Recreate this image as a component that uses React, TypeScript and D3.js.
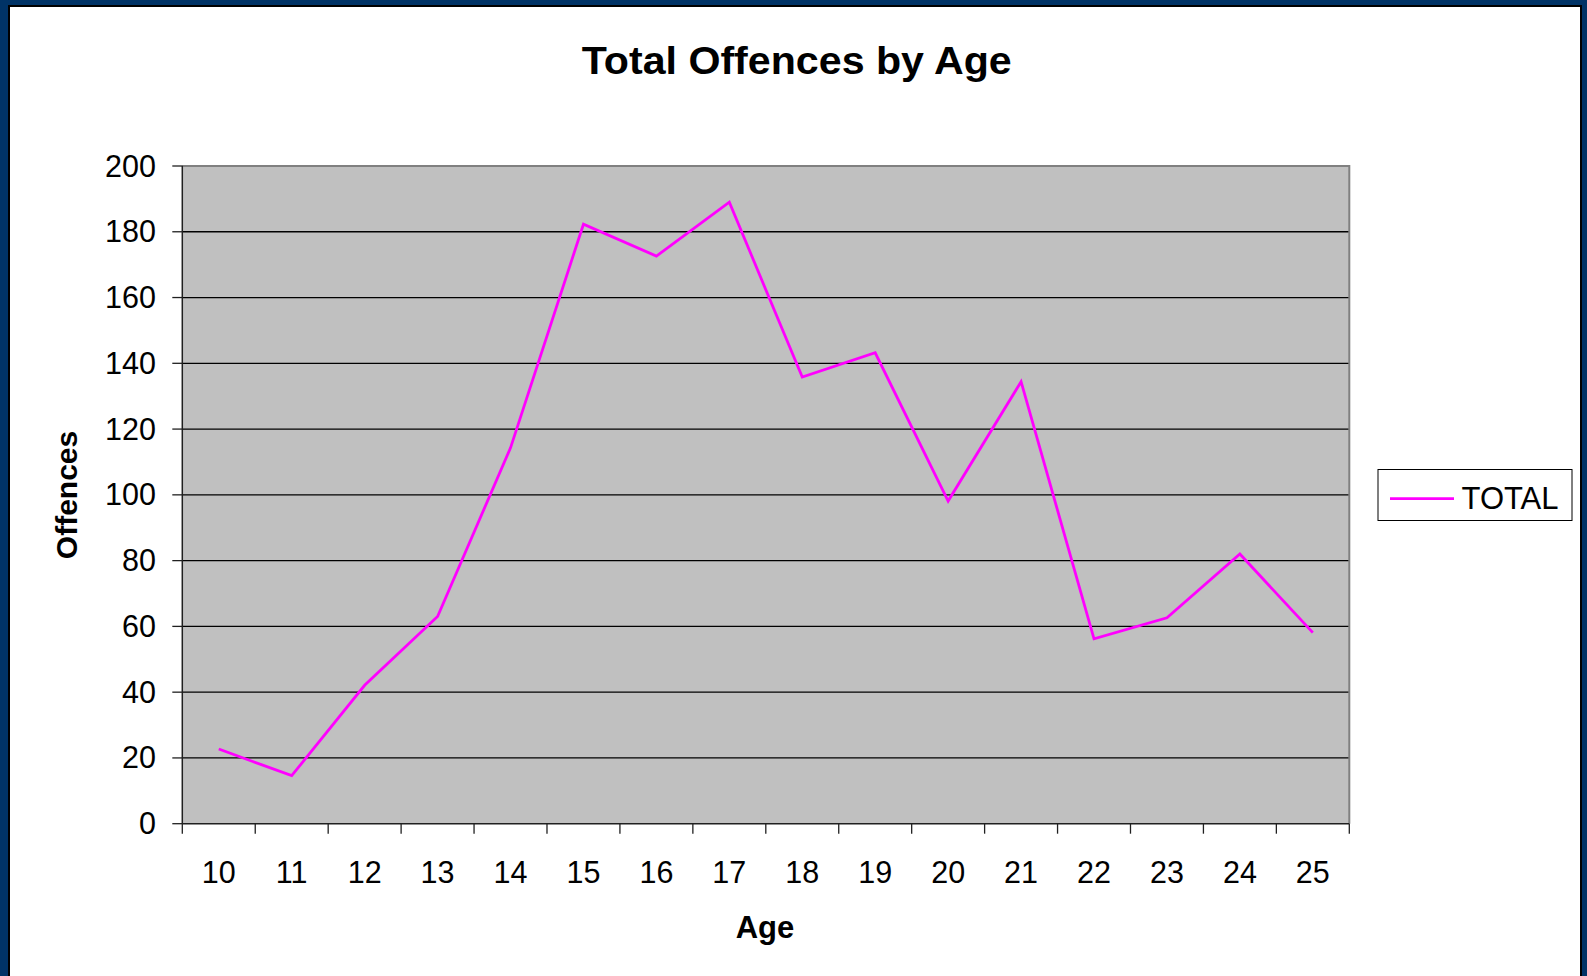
import React from "react";
import * as d3 from "d3";

const ages = ["10", "11", "12", "13", "14", "15", "16", "17", "18", "19", "20", "21", "22", "23", "24", "25"];
const totals = [22.7, 14.6, 42.1, 63, 114.3, 182.3, 172.6, 189, 135.8, 143.2, 98.1, 134.4, 56.2, 62.6, 82, 58.1];
const yTicks = [0, 20, 40, 60, 80, 100, 120, 140, 160, 180, 200];
const seriesName = "TOTAL";

const W = 1587;
const H = 976;
const font = "'Liberation Sans', Arial, sans-serif";

export default function App() {
  const left = 182.3;
  const right = 1349.3;
  const top = 166;
  const bottom = 823.7;

  const x = d3.scaleBand().domain(ages).range([left, right]).padding(0);
  const y = d3.scaleLinear().domain([0, 200]).range([bottom, top]);
  const bw = x.bandwidth();

  const line = d3
    .line<number>()
    .x((_, i) => (x(ages[i]) as number) + bw / 2)
    .y((d) => y(d));

  const boundaries = ages.map((a) => x(a) as number).concat([right]);

  return (
    <div style={{ position: "absolute", left: 0, top: 0 }}>
      <svg width={W} height={H} style={{ display: "block" }}>
        {/* frame */}
        <rect x={0} y={0} width={W} height={H} fill="#003366" />
        <rect x={8} y={5} width={1574} height={H} fill="#000" />
        <rect x={10} y={7} width={1570} height={H} fill="#fff" />

        <text
          x={581.7}
          y={73.5}
          fontFamily={font}
          fontWeight="bold"
          fontSize={38}
          textLength={430}
          lengthAdjust="spacingAndGlyphs"
        >
          Total Offences by Age
        </text>

        {/* plot area */}
        <rect x={left} y={top} width={right - left} height={bottom - top} fill="#c0c0c0" />
        {yTicks.slice(1).map((t) => (
          <line key={t} x1={left} x2={right} y1={y(t)} y2={y(t)} stroke="#000" strokeWidth={1.3} />
        ))}
        <path d={`M${left},${top}H${right}V${bottom}`} fill="none" stroke="#808080" strokeWidth={2} />
        <line x1={left} x2={left} y1={top} y2={bottom} stroke="#202020" strokeWidth={1.5} />
        <line x1={left} x2={right} y1={bottom} y2={bottom} stroke="#202020" strokeWidth={1.5} />

        {/* y axis */}
        {yTicks.map((t) => (
          <g key={t}>
            <line x1={left - 10} x2={left} y1={y(t)} y2={y(t)} stroke="#202020" strokeWidth={1.3} />
            <text x={156} y={y(t) + 10.5} textAnchor="end" fontFamily={font} fontSize={30.5}>
              {t}
            </text>
          </g>
        ))}

        {/* x axis */}
        {boundaries.map((b, i) => (
          <line key={i} x1={b} x2={b} y1={bottom} y2={bottom + 10} stroke="#202020" strokeWidth={1.3} />
        ))}
        {ages.map((a) => (
          <text key={a} x={(x(a) as number) + bw / 2} y={883} textAnchor="middle" fontFamily={font} fontSize={30.5}>
            {a}
          </text>
        ))}

        <text x={765} y={937.5} textAnchor="middle" fontFamily={font} fontWeight="bold" fontSize={31}>
          Age
        </text>
        <text
          transform="translate(77,495) rotate(-90)"
          textAnchor="middle"
          fontFamily={font}
          fontWeight="bold"
          fontSize={30}
        >
          Offences
        </text>

        <path d={line(totals) || ""} fill="none" stroke="#ff00ff" strokeWidth={2.8} strokeLinejoin="miter" />

        {/* legend */}
        <rect x={1378} y={469.5} width={194} height={51} fill="#fff" stroke="#000" strokeWidth={1} />
        <line x1={1390} x2={1454} y1={498.7} y2={498.7} stroke="#ff00ff" strokeWidth={2.8} />
        <text x={1461.5} y={509.3} fontFamily={font} fontSize={31}>
          {seriesName}
        </text>
      </svg>
    </div>
  );
}
